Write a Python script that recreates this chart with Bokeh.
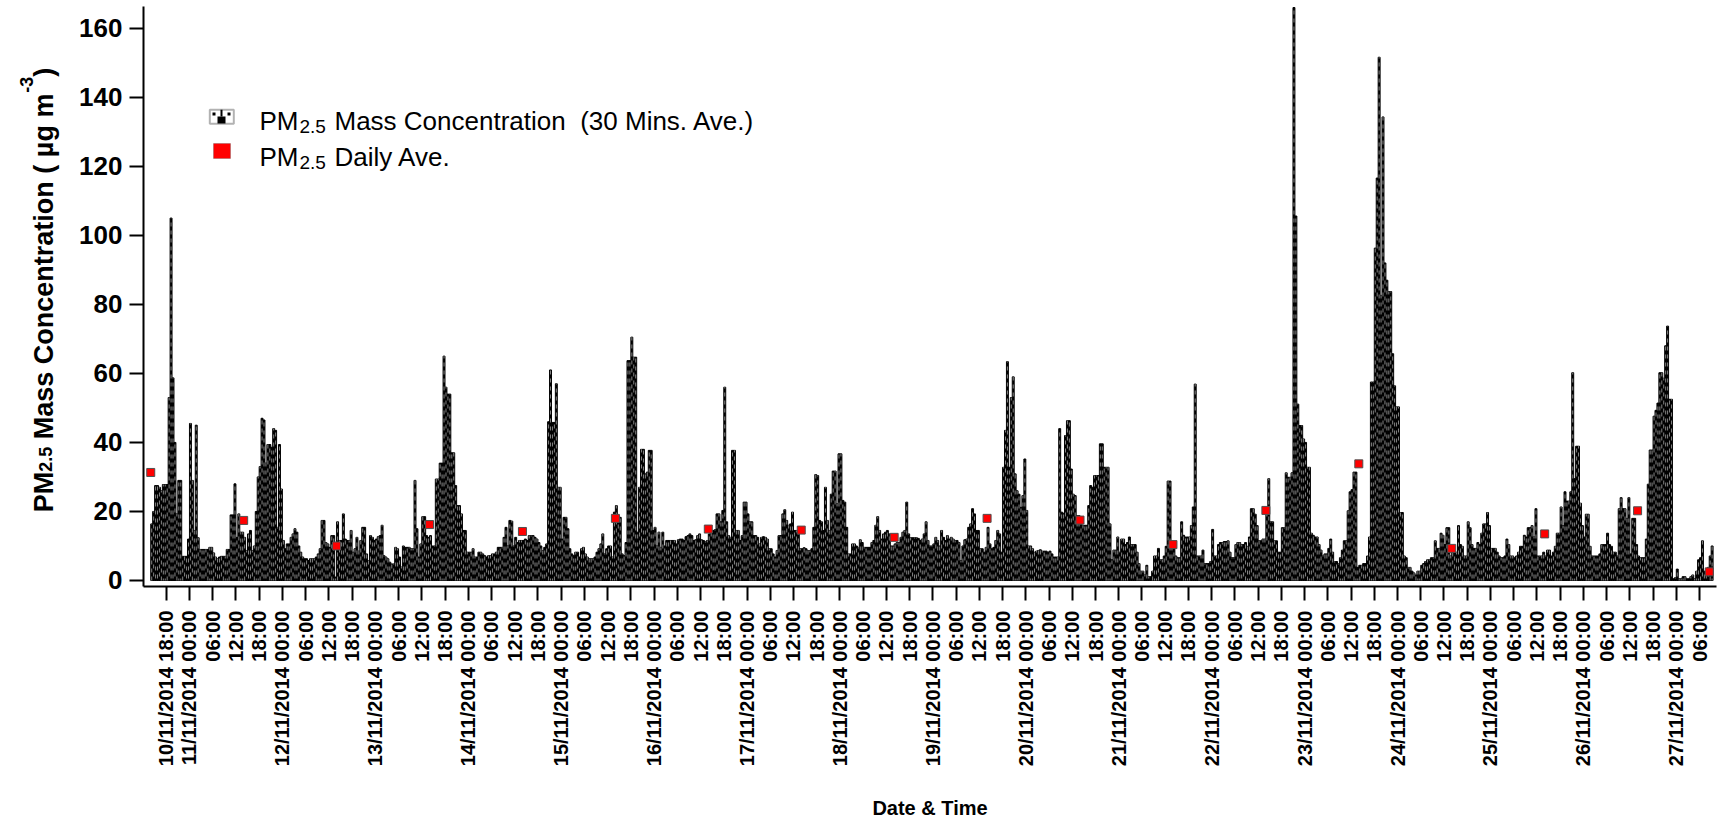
import math
from datetime import datetime, timedelta
from bokeh.plotting import figure
from bokeh.layouts import row
from bokeh.models import ColumnDataSource, FixedTicker, Label, BoxAnnotation, Range1d
from bokeh.embed import file_html
from bokeh.resources import INLINE

# ---------------- data ----------------
# PM2.5 30-minute averages (ug m-3); first bar starts 10/11/2014 14:00
first_bar_time = "10/11/2014 14:00"
pm_10nov = [16.4, 20, 27.5, 27.5, 27, 26, 27.8, 27.8, 27.8, 53, 105, 58.7, 40, 19.3, 29, 29, 7, 7, 7, 12]
pm_11nov = [45.5, 29, 14.5, 45, 12.4, 9, 9, 9, 9, 9, 9.6, 9.6, 8, 6.8, 6.3, 6.8, 7, 7, 7, 9, 9, 19, 19, 28,
            12.5, 19.3, 14, 14, 12.5, 8.7, 13.5, 14.5, 8.7, 10, 20, 30, 33, 47, 46.5, 34, 39.4, 39.4, 38.6, 44,
            43.5, 15.4, 39.4, 26.5]
pm_12nov = [11.6, 9.2, 10.6, 10.6, 12.5, 13.5, 15, 14, 10, 8.2, 6.8, 6.3, 6.3, 5.8, 6.3, 6.3, 6.3, 6.8, 7.7, 9.2,
            17.4, 17.4, 11, 10.6, 9.6, 13, 13, 1, 17, 11.6, 11.6, 19.3, 12, 11.6, 11.6, 14.5, 8.2, 9.2, 12.5, 8.5,
            11.6, 15.4, 15.4, 7.7, 5.8, 13, 12.5, 11.6]
pm_13nov = [12, 12.7, 13, 16, 7.2, 6.8, 6.3, 5.3, 4.8, 4.8, 9.6, 9.2, 6.8, 3.9, 10, 9.6, 9.6, 9.6, 9.2, 9.2, 29,
            15, 6.8, 10.6, 18.5, 18.5, 13, 12.5, 13, 10, 10, 29.4, 29.4, 34, 34, 65, 56, 54, 54, 37, 37, 27.5,
            21.7, 21.7, 19.3, 14.5, 14.5, 8.2]
pm_14nov = [8.2, 8.2, 9.2, 6.8, 6.8, 8.2, 8.2, 7.7, 7.2, 6.8, 7.2, 7.2, 7.7, 7.7, 8.2, 9.6, 9.6, 9.6, 12.5, 15.4,
            10, 17.4, 17.2, 10, 12.5, 11, 11.6, 11.6, 11.6, 12, 11.6, 13, 13, 13, 12.5, 12, 11, 10, 8.7, 9.6,
            10.6, 46, 61, 45.8, 45.8, 57, 27, 27]
pm_15nov = [12, 18.3, 18.3, 15, 9.2, 7.7, 7.2, 8.2, 8.2, 6.8, 9.2, 9.6, 7.7, 6.8, 6.3, 6.3, 6.3, 6.8, 8.2, 9.2,
            10.6, 13.5, 7.7, 9.2, 10, 10, 6.8, 19.8, 21.7, 18.8, 18.3, 7.7, 7.2, 11, 63.7, 63.7, 70.5, 64.7,
            64.7, 14, 27, 38, 38, 30.9, 31.4, 37.7, 37.7, 14.5]
pm_16nov = [15.4, 10, 14, 9.6, 14, 10, 11.6, 11.6, 11.6, 11.6, 11.6, 10.6, 11.8, 12, 12, 11.6, 12.7, 13, 13.5,
            13, 11.6, 11.8, 13, 13.5, 11.8, 11.6, 11.3, 11.6, 13.5, 14.5, 14.5, 14.7, 19.3, 19.3, 17, 20.3, 56,
            17, 13, 12.5, 37.7, 37.7, 14.5, 14.5, 11.6, 13, 22.7, 22.7]
pm_17nov = [19.3, 17, 17, 13, 13, 12.5, 10.6, 12.5, 12.7, 12.5, 12, 9.2, 9.2, 7.7, 6.8, 8.7, 13, 13, 19.3, 20.5,
            17.4, 16, 16.4, 19.8, 14.5, 14.5, 14.5, 9.2, 9.2, 9.5, 9.2, 8.7, 8.7, 9.2, 15.4, 30.7, 30.4, 17.4,
            17, 14.5, 27, 17.4, 14.5, 25, 31.7, 31.7, 22.2, 36.7]
pm_18nov = [36.7, 23.2, 22.7, 15.4, 7.7, 7.7, 10.6, 10.6, 10, 9.6, 11.8, 11, 9.6, 9.6, 9.6, 9.6, 11, 11.6, 16,
            18.5, 14.5, 12, 13.5, 14, 14.5, 13.5, 10, 10, 10.6, 11, 11, 12.5, 14, 14.5, 22.7, 13.5, 12.4, 12.4,
            12.4, 12.4, 12.2, 11.6, 12, 13.5, 17, 11.6, 10, 10]
pm_19nov = [10.6, 12.5, 11.6, 10, 14.5, 12.5, 11.6, 13, 12, 12.5, 12, 11.6, 11.6, 11, 5.8, 10, 11.8, 12, 15.4,
            16.4, 20.8, 19.3, 14.5, 14.5, 9.2, 9.2, 8.2, 9.6, 15.4, 10.6, 9.2, 9.6, 11.6, 14.5, 13.5, 8.2, 32.8,
            43.5, 63.4, 32.8, 53, 59, 30.9, 26, 25, 21.2, 24.6, 35.2]
pm_20nov = [20.3, 10, 10, 9.2, 8.2, 8.5, 8.7, 8.9, 8.5, 8.5, 8.5, 8.2, 8.5, 7.7, 6.8, 6.8, 6.8, 44, 19.8, 19.5,
            42, 46.3, 46.3, 32.3, 25, 24.6, 18.8, 18.8, 17.9, 16, 16, 16, 21.7, 27.5, 27, 30.4, 30.4, 30.4, 39.6,
            39.6, 32.8, 32.8, 32.8, 16.4, 6, 8.8, 8.8, 12.6]
pm_21nov = [8.2, 12, 12, 10.4, 11, 12.6, 10.4, 10.4, 10.4, 8.2, 4.9, 2.7, 2.7, 1.6, 4.4, 1.1, 1.1, 2.7, 7.1, 7.1,
            9.3, 6, 6, 7.1, 9.9, 28.8, 28.8, 10.4, 10.4, 7.1, 6.6, 6.6, 17, 13.1, 12.6, 12.6, 12.6, 15.9, 21.3,
            56.9, 7.1, 7.1, 7.1, 8.8, 4.9, 4.9, 4.9, 5.5]
pm_22nov = [14.8, 7.1, 7.1, 10.4, 11, 11, 11.3, 11.3, 11.5, 8.2, 6.6, 6.6, 10.4, 11, 11, 10.4, 10.4, 11, 9.9,
            12.6, 20.8, 20.8, 19.2, 15.9, 11.5, 11.5, 12, 12, 20.2, 29.5, 17, 17, 11.5, 11.5, 8.2, 8.2, 15.3,
            15.3, 31.2, 29.9, 29.9, 31.2, 166, 105.6, 51.1, 44.9, 44.9, 41]
pm_23nov = [40, 32.8, 32.8, 13.7, 13.1, 12.6, 12.6, 10.4, 8.8, 7.1, 7.7, 7.7, 9.3, 12, 8.2, 5.5, 5.5, 4.9, 6.6,
            8.8, 11.5, 11.5, 20.2, 25.7, 26.3, 31.4, 31.4, 3.8, 4.4, 4.4, 4.9, 4.9, 7.1, 12.6, 57.5, 57.5, 96.3,
            116.6, 151.6, 82.6, 134.3, 92, 87, 83.7, 83.7, 65.7, 56.4, 50.3]
pm_24nov = [50.3, 19.7, 19.7, 7.1, 6.6, 3.8, 3.8, 2.7, 2.2, 1.6, 2.7, 2.7, 4.4, 4.9, 5.5, 6, 6, 6.6, 6.6, 11.5,
            9.3, 9.3, 13.7, 13.1, 10.4, 15.3, 15.3, 7.1, 8.8, 8.2, 8.2, 15.9, 10.4, 9.9, 7.1, 7.1, 17, 15.3,
            10.4, 9.3, 9.3, 11, 10.4, 13.7, 16.4, 16.4, 19.7, 15.9]
pm_25nov = [9.3, 9.3, 9.3, 8.2, 7.1, 6.6, 6.6, 7.1, 12, 10.4, 7.1, 7.1, 6.6, 7.1, 8.2, 9.9, 9.9, 13.1, 12.6, 15.3,
            15.3, 15.9, 12.6, 20.8, 7.1, 7.1, 7.1, 8.2, 7.1, 8.8, 8.8, 7.1, 8.2, 9.9, 13.7, 13.7, 21.3, 15.9,
            25.7, 23, 23, 25.7, 60.2, 29.5, 38.9, 38.9, 22.4, 15.9]
pm_26nov = [12.6, 19.2, 19.2, 9.9, 7.1, 7.1, 7.1, 7.1, 7.7, 10.4, 10.4, 10.4, 13.7, 10.4, 9.9, 8.2, 8.2, 7.1,
            20.8, 24, 20.8, 20.8, 18, 24, 7.7, 18, 18, 10.4, 7.1, 6.6, 6.6, 6.6, 12, 27.9, 37.8, 37.8, 47.6, 49.3,
            51.4, 60.2, 60.2, 58.6, 68, 73.7, 52.5, 52.5, 0.5, 0.8]
pm_27nov = [3.3, 0.5, 0.5, 1.1, 1.1, 0.5, 0.5, 1.1, 1.6, 0.5, 2.7, 6, 6.6, 11.5, 2.7, 2.7, 3.8, 7.1, 10]

# PM2.5 daily averages and the time at which each is drawn
daily_times = ["10/11/2014 14:00", "11/11/2014 14:00", "12/11/2014 14:00", "13/11/2014 14:00",
               "14/11/2014 14:00", "15/11/2014 14:00", "16/11/2014 14:00", "17/11/2014 14:00",
               "18/11/2014 14:00", "19/11/2014 14:00", "20/11/2014 14:00", "21/11/2014 14:00",
               "22/11/2014 14:00", "23/11/2014 14:00", "24/11/2014 14:00", "25/11/2014 14:00",
               "26/11/2014 14:00", "27/11/2014 08:30"]
daily_ave = [31.3, 17.4, 10.0, 16.2, 14.2, 18.0, 14.9, 14.6, 12.5, 18.0, 17.5, 10.4, 20.3, 33.8, 9.3, 13.5,
             20.2, 2.5]

# axis ticks
x_tick_first = "10/11/2014 18:00"
x_tick_last = "27/11/2014 06:00"
y_ticks = [0, 20, 40, 60, 80, 100, 120, 140, 160]

# ---------------- build ----------------
FONT = "Liberation Sans"
FMT = "%d/%m/%Y %H:%M"
ORIGIN = datetime(2014, 11, 10)


def hours(dt):
    return (dt - ORIGIN).total_seconds() / 3600.0


pm_values = (pm_10nov + pm_11nov + pm_12nov + pm_13nov + pm_14nov + pm_15nov + pm_16nov + pm_17nov +
             pm_18nov + pm_19nov + pm_20nov + pm_21nov + pm_22nov + pm_23nov + pm_24nov + pm_25nov +
             pm_26nov + pm_27nov)
t0 = hours(datetime.strptime(first_bar_time, FMT))
bar_x = [t0 + 0.25 + 0.5 * i for i in range(len(pm_values))]
dash_off = [(i * i * 3 + i) % 8 for i in range(len(pm_values))]   # style only: de-phase the dashes
bars = ColumnDataSource(dict(x=bar_x, top=pm_values, off=dash_off))

daily = ColumnDataSource(dict(x=[hours(datetime.strptime(s, FMT)) for s in daily_times], y=daily_ave))

t_first = datetime.strptime(x_tick_first, FMT)
t_last = datetime.strptime(x_tick_last, FMT)
x_ticks, x_labels = [], {}
t = t_first
while t <= t_last:
    h = int(round(hours(t)))
    x_ticks.append(h)
    x_labels[h] = t.strftime(FMT) if (t.hour == 0 or t == t_first) else t.strftime("%H:%M")
    t += timedelta(hours=6)

TITLE_W = 63
p = figure(width=1719 - TITLE_W, height=823, output_backend="svg", toolbar_location=None,
           x_range=Range1d(12.13, 418.38), y_range=Range1d(-1.74, 166.3),
           min_border_left=143 - TITLE_W, min_border_right=3, min_border_top=6, min_border_bottom=237)
p.outline_line_color = None
p.xgrid.visible = False
p.ygrid.visible = False
p.background_fill_color = "white"
p.border_fill_color = "white"

p.vbar(x="x", top="top", bottom=0, width=0.5, source=bars,
       fill_color="black", line_color="black", line_width=1)
p.segment(x0="x", y0=0, x1="x", y1="top", source=bars,
          line_color="#dcdcdc", line_width=0.6, line_dash="4 4", line_dash_offset="off")
p.scatter(x="x", y="y", source=daily, marker="square", size=8,
          fill_color="#ff0000", line_color="#505050", line_width=1)

# axes
for ax in (p.xaxis[0], p.yaxis[0]):
    ax.axis_line_width = 2
    ax.axis_line_color = "black"
    ax.major_tick_line_width = 2
    ax.major_tick_line_color = "black"
    ax.major_tick_out = 14
    ax.major_tick_in = 0
    ax.minor_tick_line_color = None
    ax.major_label_text_font = FONT
    ax.major_label_text_font_style = "bold"
    ax.major_label_text_color = "black"

p.xaxis.ticker = FixedTicker(ticks=x_ticks)
p.xaxis.major_label_overrides = x_labels
p.xaxis.major_label_orientation = math.pi / 2
p.xaxis.major_label_text_font_size = "20px"
p.xaxis.major_label_standoff = 10
p.xaxis.axis_label = "Date & Time"
p.xaxis.axis_label_text_font = FONT
p.xaxis.axis_label_text_font_style = "bold"
p.xaxis.axis_label_text_font_size = "20px"
p.xaxis.axis_label_text_color = "black"
p.xaxis.axis_label_standoff = 28

p.yaxis.ticker = FixedTicker(ticks=y_ticks)
p.yaxis.major_label_text_font_size = "26px"
p.yaxis.major_label_standoff = 7


def lab(fig, text, x, y, size, bold=False, angle=0.0, align="left"):
    fig.add_layout(Label(text=text, x=x, y=y, x_units="screen", y_units="screen", angle=angle,
                         text_font=FONT, text_font_size=size, text_font_style="bold" if bold else "normal",
                         text_color="black", text_align=align, text_baseline="alphabetic"))


# y-axis title in a narrow panel to the left; its frame is aligned with the main frame
# (x from the panel's left edge, y upward from the main frame's bottom)
tf = figure(width=TITLE_W, height=823, output_backend="svg", toolbar_location=None,
            x_range=Range1d(0, 1), y_range=Range1d(0, 1), x_axis_type=None, y_axis_type=None,
            min_border=0)
tf.outline_line_color = None
tf.xgrid.visible = False
tf.ygrid.visible = False
R = math.pi / 2
lab(tf, "PM", 43, 74.3, "27px", True, R)
lab(tf, "2.5", 45, 114.8, "18px", True, R)
lab(tf, "Mass Concentration ( \u00b5g m", 43, 147.3, "27px", True, R)
lab(tf, "-3", 26, 493.8, "18px", True, R)
lab(tf, ")", 43, 509.8, "27px", True, R)

# legend (inside the plot frame)
def box(left, right, bottom, top, fill, line=None, lw=1):
    p.add_layout(BoxAnnotation(left=left, right=right, bottom=bottom, top=top, left_units="screen",
                               right_units="screen", top_units="screen", bottom_units="screen",
                               fill_color=fill, fill_alpha=1, line_color=line, line_width=lw))


box(66.3, 90.3, 462.7, 476.7, "white", "black", 2)
box(74, 82, 463, 470, "black")
box(77, 79, 470, 476.7, "black")
box(69, 72, 471, 474, "black")
box(84, 87, 471, 474, "black")
box(70, 87, 428, 443, "#ff0000", "#505050", 1)

lab(p, "PM", 116, 466, "26px")
lab(p, "2.5", 156, 460, "19px")
lab(p, "Mass Concentration \u00a0(30 Mins. Ave.)", 191, 466, "26px")
lab(p, "PM", 116, 429.7, "26px")
lab(p, "2.5", 156, 423.7, "19px")
lab(p, "Daily Ave.", 191, 429.7, "26px")

layout = row(tf, p)
open("out.html", "w").write(file_html(layout, INLINE))
